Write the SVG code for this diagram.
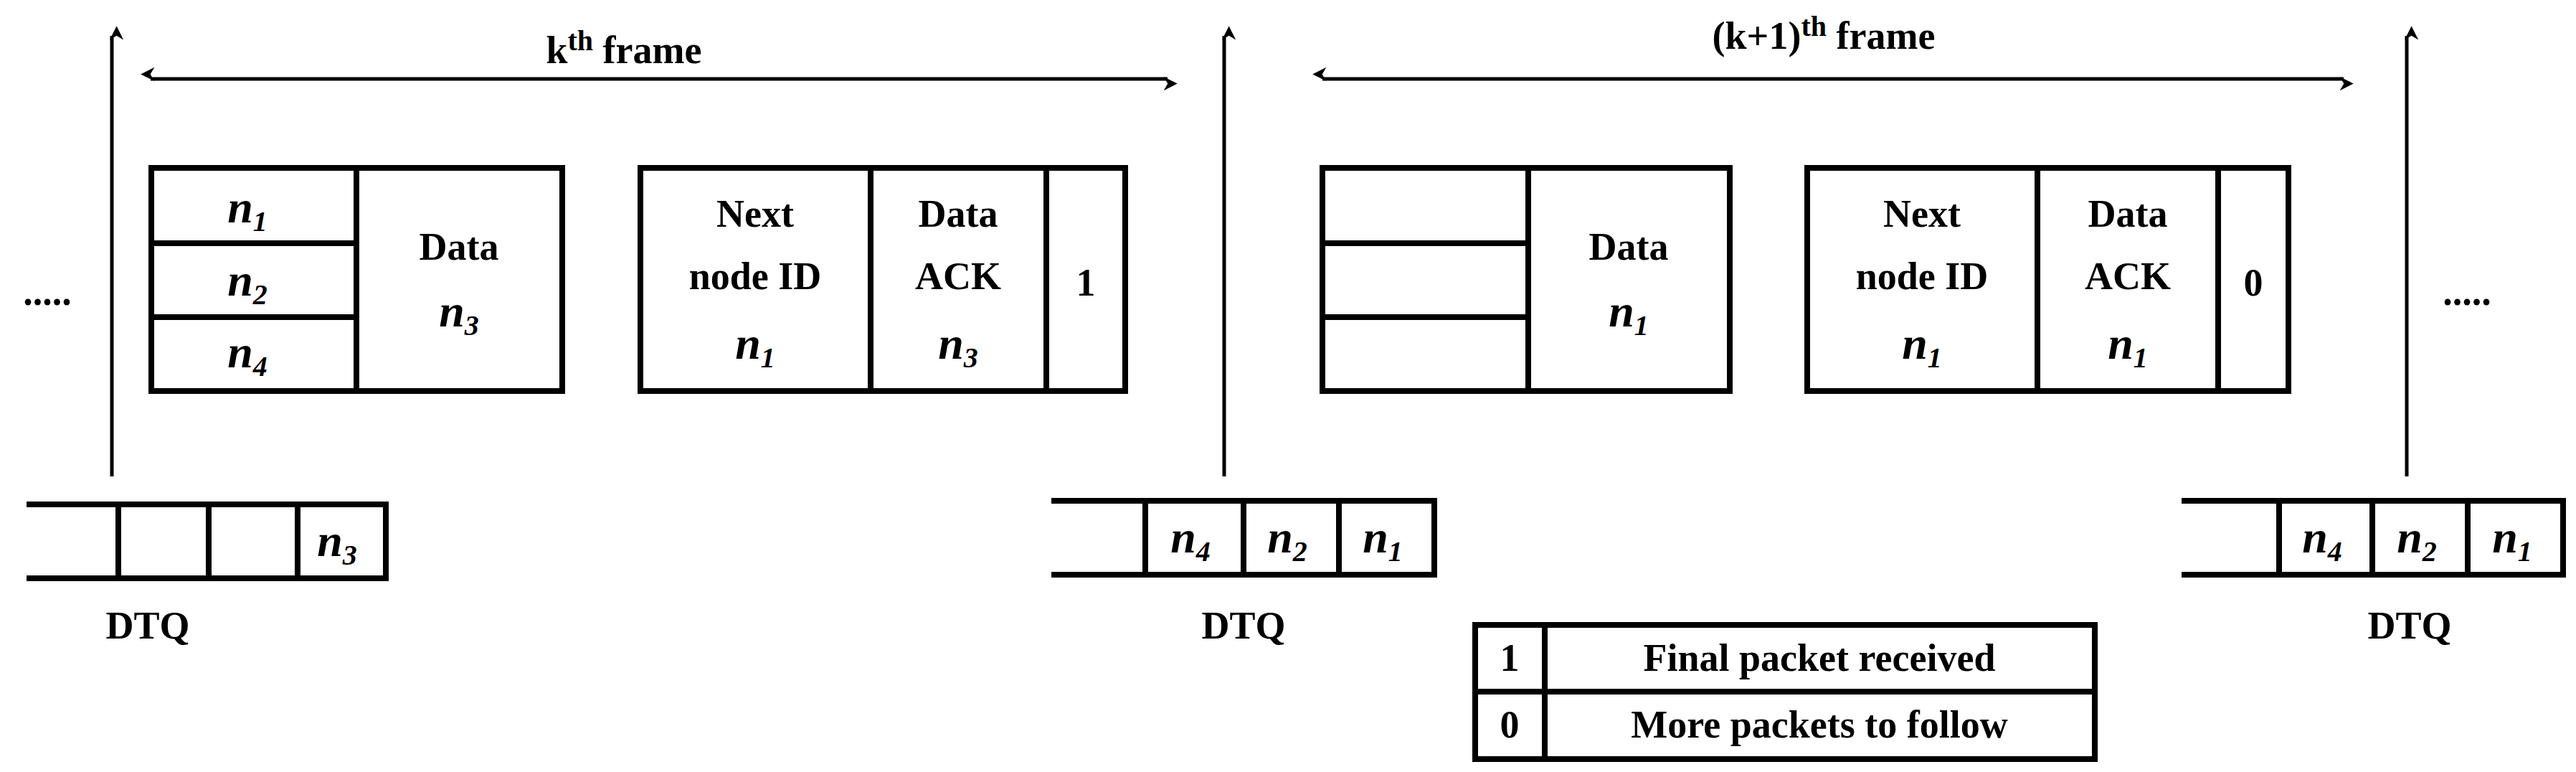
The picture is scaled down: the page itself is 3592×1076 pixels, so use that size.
<svg xmlns="http://www.w3.org/2000/svg" width="3592" height="1076" viewBox="0 0 3592 1076">
<style>
.b{fill:none;stroke:#000;stroke-width:8}
.l{fill:none;stroke:#000;stroke-width:5}
text{font-family:"Liberation Serif","Times New Roman",serif;font-weight:bold;font-size:54px;text-anchor:middle;fill:#000}
.n{font-style:italic;font-size:64px}
.s{font-size:40px}
</style>
<defs>
<marker id="a" viewBox="0 0 10 10" refX="9" refY="5" markerWidth="6" markerHeight="6" orient="auto-start-reverse" markerUnits="userSpaceOnUse" style="overflow:visible"><path d="M0,0 L10,5 L0,10 L3,5 z" transform="scale(3.2)" fill="#000"/></marker>
</defs>
<g id="connectors">
<line class="l" x1="156" y1="664" x2="156" y2="50" marker-end="url(#a)"/>
<line class="l" x1="1707" y1="664" x2="1707" y2="50" marker-end="url(#a)"/>
<line class="l" x1="3356" y1="664" x2="3356" y2="50" marker-end="url(#a)"/>
<line class="l" x1="210" y1="110" x2="1628" y2="110" marker-start="url(#a)" marker-end="url(#a)"/>
<line class="l" x1="1844" y1="110" x2="3268" y2="110" marker-start="url(#a)" marker-end="url(#a)"/>
</g>
<g id="label-k"><text x="870" y="88">k<tspan class="s" dy="-18">th</tspan><tspan dy="18"> frame</tspan></text></g>
<g id="label-k1"><text x="2543" y="68">(k+1)<tspan class="s" dy="-18">th</tspan><tspan dy="18"> frame</tspan></text></g>
<g id="dots-left"><text x="66" y="425" font-size="60">.....</text></g>
<g id="dots-right"><text x="3440" y="425" font-size="60">.....</text></g>
<g id="frame1-data">
<rect class="b" x="211" y="234" width="573" height="311"/>
<line class="b" x1="497" y1="234" x2="497" y2="545"/>
<line class="b" x1="211" y1="339" x2="497" y2="339"/>
<line class="b" x1="211" y1="442" x2="497" y2="442"/>
<text class="n" x="345" y="310">n<tspan class="s" dy="12">1</tspan></text>
<text class="n" x="345" y="412">n<tspan class="s" dy="12">2</tspan></text>
<text class="n" x="345" y="512">n<tspan class="s" dy="12">4</tspan></text>
<text x="640" y="362">Data</text>
<text class="n" x="640" y="455">n<tspan class="s" dy="12">3</tspan></text>
</g>
<g id="frame1-ack">
<rect class="b" x="893" y="234" width="676" height="311"/>
<line class="b" x1="1214" y1="234" x2="1214" y2="545"/>
<line class="b" x1="1459" y1="234" x2="1459" y2="545"/>
<text x="1053" y="316">Next</text>
<text x="1053" y="403">node ID</text>
<text class="n" x="1053" y="500">n<tspan class="s" dy="12">1</tspan></text>
<text x="1336" y="316">Data</text>
<text x="1336" y="403">ACK</text>
<text class="n" x="1336" y="500">n<tspan class="s" dy="12">3</tspan></text>
<text x="1514" y="412">1</text>
</g>
<g id="frame2-data">
<rect class="b" x="1844" y="234" width="568" height="311"/>
<line class="b" x1="2131" y1="234" x2="2131" y2="545"/>
<line class="b" x1="1844" y1="339" x2="2131" y2="339"/>
<line class="b" x1="1844" y1="442" x2="2131" y2="442"/>
<text x="2271" y="362">Data</text>
<text class="n" x="2271" y="455">n<tspan class="s" dy="12">1</tspan></text>
</g>
<g id="frame2-ack">
<rect class="b" x="2520" y="234" width="671" height="311"/>
<line class="b" x1="2841" y1="234" x2="2841" y2="545"/>
<line class="b" x1="3093" y1="234" x2="3093" y2="545"/>
<text x="2680" y="316">Next</text>
<text x="2680" y="403">node ID</text>
<text class="n" x="2680" y="500">n<tspan class="s" dy="12">1</tspan></text>
<text x="2967" y="316">Data</text>
<text x="2967" y="403">ACK</text>
<text class="n" x="2967" y="500">n<tspan class="s" dy="12">1</tspan></text>
<text x="3142" y="412">0</text>
</g>
<g id="dtq1">
<polyline class="b" points="37,703 538,703 538,806 37,806"/>
<line class="b" x1="165" y1="703" x2="165" y2="806"/>
<line class="b" x1="291" y1="703" x2="291" y2="806"/>
<line class="b" x1="415" y1="703" x2="415" y2="806"/>
<text class="n" x="470" y="775">n<tspan class="s" dy="12">3</tspan></text>
<text x="206" y="890">DTQ</text>
</g>
<g id="dtq2">
<polyline class="b" points="1466,698 2000,698 2000,801 1466,801"/>
<line class="b" x1="1597" y1="698" x2="1597" y2="801"/>
<line class="b" x1="1734" y1="698" x2="1734" y2="801"/>
<line class="b" x1="1867" y1="698" x2="1867" y2="801"/>
<text class="n" x="1660" y="770">n<tspan class="s" dy="12">4</tspan></text>
<text class="n" x="1795" y="770">n<tspan class="s" dy="12">2</tspan></text>
<text class="n" x="1928" y="770">n<tspan class="s" dy="12">1</tspan></text>
<text x="1734" y="890">DTQ</text>
</g>
<g id="dtq3">
<polyline class="b" points="3042,698 3574,698 3574,801 3042,801"/>
<line class="b" x1="3178" y1="698" x2="3178" y2="801"/>
<line class="b" x1="3308" y1="698" x2="3308" y2="801"/>
<line class="b" x1="3441" y1="698" x2="3441" y2="801"/>
<text class="n" x="3238" y="770">n<tspan class="s" dy="12">4</tspan></text>
<text class="n" x="3370" y="770">n<tspan class="s" dy="12">2</tspan></text>
<text class="n" x="3503" y="770">n<tspan class="s" dy="12">1</tspan></text>
<text x="3360" y="890">DTQ</text>
</g>
<g id="legend">
<rect class="b" x="2057" y="871" width="864" height="187"/>
<line class="b" x1="2154" y1="871" x2="2154" y2="1058"/>
<line class="b" x1="2057" y1="964" x2="2921" y2="964"/>
<text x="2105" y="935">1</text>
<text x="2537" y="935">Final packet received</text>
<text x="2105" y="1028">0</text>
<text x="2537" y="1028">More packets to follow</text>
</g>
</svg>
